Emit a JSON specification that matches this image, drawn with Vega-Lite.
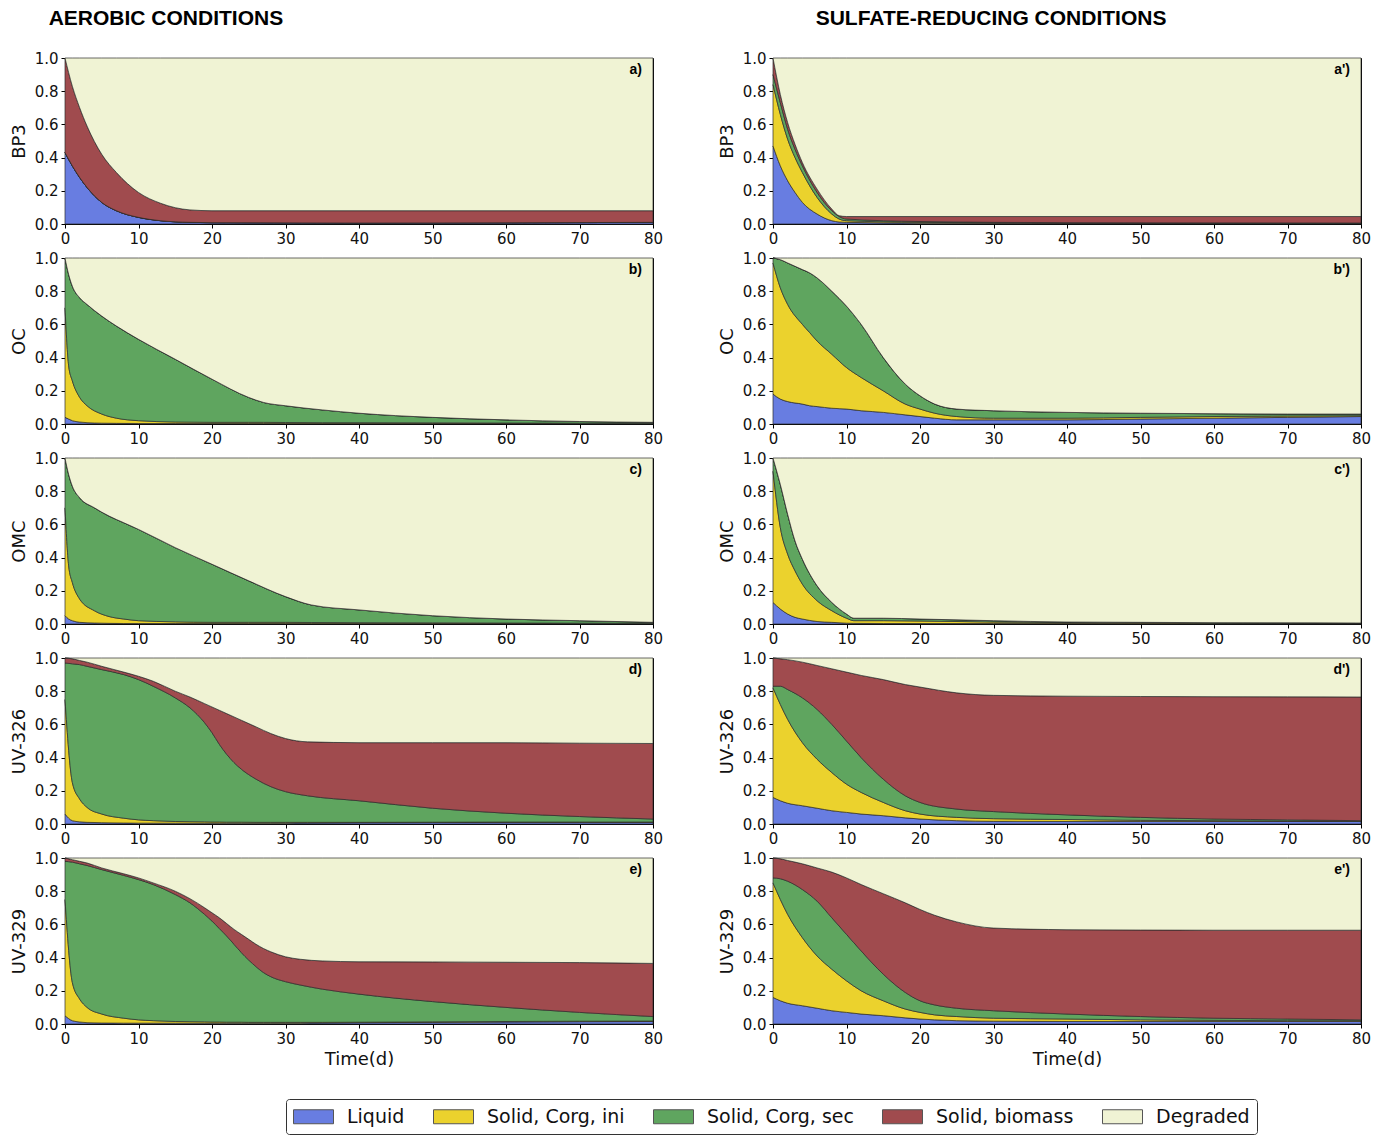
{
"$schema":"https://vega.github.io/schema/vega-lite/v6.json",
"padding":{"left":9,"top":7,"right":10,"bottom":0},
"background":"white",
"config":{
 "view":{"stroke":"#000","strokeWidth":1},
 "font":"DejaVu Sans",
 "axis":{"domainColor":"#000","tickColor":"#000","tickSize":4,"labelColor":"#111","labelFontSize":15,"labelFont":"DejaVu Sans","labelOverlap":false,"titleFont":"DejaVu Sans","titleFontSize":18,"titleFontWeight":"normal","titleColor":"#111","grid":false,"labelFlush":false,"labelPadding":3},
 "axisY":{"titlePadding":6},
 "axisX":{"titlePadding":4},
 "legend":{"orient":"none","legendX":221,"legendY":1041,"direction":"horizontal","columns":5,"symbolType":"M-1,-0.7H3V0.7H-1Z","symbolSize":400,"symbolStrokeColor":"#555","symbolStrokeWidth":1,"symbolOpacity":1,"labelFontSize":19,"labelFont":"DejaVu Sans","labelColor":"#111","columnPadding":26,"labelOffset":33,"strokeColor":"#333","padding":7,"cornerRadius":3,"fillColor":"#fff"},
 "title":{"font":"Liberation Sans","fontSize":21,"fontWeight":"bold","color":"#000","anchor":"start","offset":22}
},
"datasets":{"d":[
{"p":"a","t":0,"L":0.43,"I":0,"S":0,"B":0.57,"D":0},
{"p":"a","t":1,"L":0.35,"I":0,"S":0,"B":0.48,"D":0.17},
{"p":"a","t":2,"L":0.28,"I":0,"S":0,"B":0.42,"D":0.30},
{"p":"a","t":3,"L":0.22,"I":0,"S":0,"B":0.37,"D":0.41},
{"p":"a","t":5,"L":0.13,"I":0,"S":0,"B":0.29,"D":0.58},
{"p":"a","t":7,"L":0.08,"I":0,"S":0,"B":0.23,"D":0.69},
{"p":"a","t":10,"L":0.04,"I":0,"S":0,"B":0.15,"D":0.81},
{"p":"a","t":13,"L":0.02,"I":0,"S":0,"B":0.105,"D":0.875},
{"p":"a","t":17,"L":0.01,"I":0,"S":0,"B":0.075,"D":0.915},
{"p":"a","t":20,"L":0.008,"I":0,"S":0,"B":0.072,"D":0.92},
{"p":"a","t":40,"L":0.006,"I":0,"S":0,"B":0.074,"D":0.92},
{"p":"a","t":80,"L":0.01,"I":0,"S":0,"B":0.07,"D":0.92},

{"p":"b","t":0,"L":0.04,"I":0.66,"S":0.30,"B":0,"D":0},
{"p":"b","t":0.5,"L":0.03,"I":0.32,"S":0.55,"B":0,"D":0.10},
{"p":"b","t":1,"L":0.02,"I":0.24,"S":0.57,"B":0,"D":0.17},
{"p":"b","t":2,"L":0.012,"I":0.148,"S":0.60,"B":0,"D":0.24},
{"p":"b","t":3,"L":0.008,"I":0.102,"S":0.61,"B":0,"D":0.28},
{"p":"b","t":5,"L":0.005,"I":0.055,"S":0.59,"B":0,"D":0.35},
{"p":"b","t":7,"L":0.004,"I":0.031,"S":0.555,"B":0,"D":0.41},
{"p":"b","t":10,"L":0.003,"I":0.017,"S":0.49,"B":0,"D":0.49},
{"p":"b","t":15,"L":0.003,"I":0.009,"S":0.378,"B":0,"D":0.61},
{"p":"b","t":20,"L":0.003,"I":0.007,"S":0.26,"B":0,"D":0.73},
{"p":"b","t":25,"L":0.003,"I":0.007,"S":0.15,"B":0,"D":0.84},
{"p":"b","t":27,"L":0.003,"I":0.007,"S":0.12,"B":0,"D":0.87},
{"p":"b","t":30,"L":0.003,"I":0.006,"S":0.101,"B":0,"D":0.89},
{"p":"b","t":35,"L":0.003,"I":0.005,"S":0.077,"B":0,"D":0.915},
{"p":"b","t":40,"L":0.003,"I":0.005,"S":0.057,"B":0,"D":0.935},
{"p":"b","t":50,"L":0.003,"I":0.004,"S":0.033,"B":0,"D":0.96},
{"p":"b","t":60,"L":0.003,"I":0.003,"S":0.019,"B":0,"D":0.975},
{"p":"b","t":70,"L":0.003,"I":0.002,"S":0.01,"B":0,"D":0.985},
{"p":"b","t":80,"L":0.003,"I":0.002,"S":0.005,"B":0,"D":0.99},

{"p":"c","t":0,"L":0.05,"I":0.65,"S":0.30,"B":0,"D":0},
{"p":"c","t":0.5,"L":0.03,"I":0.32,"S":0.55,"B":0,"D":0.10},
{"p":"c","t":1,"L":0.02,"I":0.23,"S":0.58,"B":0,"D":0.17},
{"p":"c","t":2,"L":0.01,"I":0.14,"S":0.61,"B":0,"D":0.24},
{"p":"c","t":4,"L":0.006,"I":0.074,"S":0.62,"B":0,"D":0.30},
{"p":"c","t":6,"L":0.004,"I":0.041,"S":0.605,"B":0,"D":0.35},
{"p":"c","t":8,"L":0.003,"I":0.027,"S":0.58,"B":0,"D":0.39},
{"p":"c","t":10,"L":0.003,"I":0.017,"S":0.55,"B":0,"D":0.43},
{"p":"c","t":15,"L":0.003,"I":0.01,"S":0.447,"B":0,"D":0.54},
{"p":"c","t":20,"L":0.003,"I":0.007,"S":0.35,"B":0,"D":0.64},
{"p":"c","t":25,"L":0.003,"I":0.007,"S":0.25,"B":0,"D":0.74},
{"p":"c","t":30,"L":0.003,"I":0.007,"S":0.155,"B":0,"D":0.835},
{"p":"c","t":33.5,"L":0.003,"I":0.006,"S":0.106,"B":0,"D":0.885},
{"p":"c","t":40,"L":0.003,"I":0.005,"S":0.077,"B":0,"D":0.915},
{"p":"c","t":50,"L":0.003,"I":0.004,"S":0.043,"B":0,"D":0.95},
{"p":"c","t":60,"L":0.003,"I":0.003,"S":0.024,"B":0,"D":0.97},
{"p":"c","t":70,"L":0.003,"I":0.002,"S":0.015,"B":0,"D":0.98},
{"p":"c","t":80,"L":0.003,"I":0.002,"S":0.005,"B":0,"D":0.99},

{"p":"d","t":0,"L":0.06,"I":0.69,"S":0.22,"B":0.03,"D":0},
{"p":"d","t":1,"L":0.02,"I":0.23,"S":0.715,"B":0.03,"D":0.005},
{"p":"d","t":2,"L":0.013,"I":0.137,"S":0.81,"B":0.025,"D":0.015},
{"p":"d","t":3,"L":0.01,"I":0.09,"S":0.85,"B":0.025,"D":0.025},
{"p":"d","t":5,"L":0.008,"I":0.052,"S":0.87,"B":0.02,"D":0.05},
{"p":"d","t":8,"L":0.006,"I":0.029,"S":0.865,"B":0.015,"D":0.085},
{"p":"d","t":10,"L":0.005,"I":0.02,"S":0.845,"B":0.02,"D":0.11},
{"p":"d","t":12,"L":0.005,"I":0.015,"S":0.81,"B":0.03,"D":0.14},
{"p":"d","t":15,"L":0.005,"I":0.01,"S":0.745,"B":0.04,"D":0.20},
{"p":"d","t":17,"L":0.005,"I":0.009,"S":0.686,"B":0.065,"D":0.235},
{"p":"d","t":19,"L":0.005,"I":0.008,"S":0.597,"B":0.115,"D":0.275},
{"p":"d","t":20,"L":0.005,"I":0.007,"S":0.538,"B":0.155,"D":0.295},
{"p":"d","t":21,"L":0.005,"I":0.007,"S":0.468,"B":0.205,"D":0.315},
{"p":"d","t":22,"L":0.005,"I":0.006,"S":0.409,"B":0.245,"D":0.335},
{"p":"d","t":23,"L":0.005,"I":0.006,"S":0.359,"B":0.275,"D":0.355},
{"p":"d","t":24,"L":0.005,"I":0.006,"S":0.319,"B":0.295,"D":0.375},
{"p":"d","t":26,"L":0.005,"I":0.005,"S":0.26,"B":0.315,"D":0.415},
{"p":"d","t":28,"L":0.005,"I":0.005,"S":0.215,"B":0.32,"D":0.455},
{"p":"d","t":30,"L":0.005,"I":0.005,"S":0.185,"B":0.32,"D":0.485},
{"p":"d","t":33,"L":0.006,"I":0.004,"S":0.16,"B":0.325,"D":0.505},
{"p":"d","t":40,"L":0.008,"I":0.002,"S":0.13,"B":0.35,"D":0.51},
{"p":"d","t":50,"L":0.009,"I":0.002,"S":0.084,"B":0.395,"D":0.51},
{"p":"d","t":60,"L":0.01,"I":0.002,"S":0.053,"B":0.425,"D":0.51},
{"p":"d","t":70,"L":0.01,"I":0.002,"S":0.033,"B":0.442,"D":0.513},
{"p":"d","t":80,"L":0.01,"I":0.002,"S":0.018,"B":0.455,"D":0.515},

{"p":"e","t":0,"L":0.05,"I":0.70,"S":0.23,"B":0.02,"D":0},
{"p":"e","t":1,"L":0.02,"I":0.23,"S":0.725,"B":0.015,"D":0.01},
{"p":"e","t":2,"L":0.012,"I":0.138,"S":0.815,"B":0.015,"D":0.02},
{"p":"e","t":3,"L":0.008,"I":0.092,"S":0.855,"B":0.015,"D":0.03},
{"p":"e","t":5,"L":0.006,"I":0.054,"S":0.87,"B":0.01,"D":0.06},
{"p":"e","t":8,"L":0.005,"I":0.03,"S":0.86,"B":0.01,"D":0.095},
{"p":"e","t":10,"L":0.005,"I":0.02,"S":0.845,"B":0.01,"D":0.12},
{"p":"e","t":12,"L":0.005,"I":0.015,"S":0.82,"B":0.01,"D":0.15},
{"p":"e","t":15,"L":0.005,"I":0.01,"S":0.765,"B":0.02,"D":0.20},
{"p":"e","t":17,"L":0.005,"I":0.009,"S":0.716,"B":0.025,"D":0.245},
{"p":"e","t":19,"L":0.005,"I":0.008,"S":0.647,"B":0.04,"D":0.30},
{"p":"e","t":20,"L":0.005,"I":0.007,"S":0.608,"B":0.05,"D":0.33},
{"p":"e","t":21,"L":0.005,"I":0.007,"S":0.563,"B":0.065,"D":0.36},
{"p":"e","t":22,"L":0.005,"I":0.006,"S":0.519,"B":0.075,"D":0.395},
{"p":"e","t":23,"L":0.005,"I":0.006,"S":0.469,"B":0.09,"D":0.43},
{"p":"e","t":24,"L":0.005,"I":0.006,"S":0.419,"B":0.11,"D":0.46},
{"p":"e","t":25,"L":0.005,"I":0.005,"S":0.375,"B":0.125,"D":0.49},
{"p":"e","t":26,"L":0.005,"I":0.005,"S":0.335,"B":0.135,"D":0.52},
{"p":"e","t":27,"L":0.005,"I":0.005,"S":0.30,"B":0.145,"D":0.545},
{"p":"e","t":28,"L":0.005,"I":0.005,"S":0.275,"B":0.15,"D":0.565},
{"p":"e","t":30,"L":0.005,"I":0.005,"S":0.245,"B":0.15,"D":0.595},
{"p":"e","t":32,"L":0.005,"I":0.005,"S":0.225,"B":0.155,"D":0.61},
{"p":"e","t":35,"L":0.006,"I":0.004,"S":0.20,"B":0.17,"D":0.62},
{"p":"e","t":40,"L":0.008,"I":0.003,"S":0.169,"B":0.195,"D":0.625},
{"p":"e","t":50,"L":0.01,"I":0.003,"S":0.122,"B":0.239,"D":0.626},
{"p":"e","t":60,"L":0.012,"I":0.003,"S":0.085,"B":0.272,"D":0.628},
{"p":"e","t":70,"L":0.014,"I":0.003,"S":0.053,"B":0.30,"D":0.63},
{"p":"e","t":80,"L":0.015,"I":0.003,"S":0.027,"B":0.32,"D":0.635},

{"p":"a2","t":0,"L":0.47,"I":0.37,"S":0.06,"B":0.10,"D":0},
{"p":"a2","t":1,"L":0.35,"I":0.31,"S":0.07,"B":0.05,"D":0.22},
{"p":"a2","t":2,"L":0.26,"I":0.25,"S":0.06,"B":0.04,"D":0.39},
{"p":"a2","t":3,"L":0.19,"I":0.21,"S":0.05,"B":0.03,"D":0.52},
{"p":"a2","t":4,"L":0.13,"I":0.18,"S":0.04,"B":0.02,"D":0.63},
{"p":"a2","t":6,"L":0.06,"I":0.10,"S":0.03,"B":0.02,"D":0.79},
{"p":"a2","t":8,"L":0.02,"I":0.04,"S":0.02,"B":0.01,"D":0.91},
{"p":"a2","t":9,"L":0.012,"I":0.018,"S":0.015,"B":0.005,"D":0.95},
{"p":"a2","t":10,"L":0.01,"I":0.01,"S":0.01,"B":0.015,"D":0.955},
{"p":"a2","t":20,"L":0.005,"I":0.005,"S":0.005,"B":0.03,"D":0.955},
{"p":"a2","t":40,"L":0.004,"I":0.002,"S":0.002,"B":0.037,"D":0.955},
{"p":"a2","t":80,"L":0.004,"I":0.001,"S":0.001,"B":0.039,"D":0.955},

{"p":"b2","t":0,"L":0.18,"I":0.79,"S":0.03,"B":0,"D":0},
{"p":"b2","t":1,"L":0.15,"I":0.67,"S":0.17,"B":0,"D":0.01},
{"p":"b2","t":2,"L":0.135,"I":0.585,"S":0.25,"B":0,"D":0.03},
{"p":"b2","t":4,"L":0.12,"I":0.48,"S":0.33,"B":0,"D":0.07},
{"p":"b2","t":5,"L":0.11,"I":0.44,"S":0.36,"B":0,"D":0.09},
{"p":"b2","t":6,"L":0.105,"I":0.395,"S":0.38,"B":0,"D":0.12},
{"p":"b2","t":8,"L":0.095,"I":0.325,"S":0.38,"B":0,"D":0.20},
{"p":"b2","t":10,"L":0.09,"I":0.25,"S":0.37,"B":0,"D":0.29},
{"p":"b2","t":12,"L":0.08,"I":0.20,"S":0.32,"B":0,"D":0.40},
{"p":"b2","t":15,"L":0.07,"I":0.13,"S":0.20,"B":0,"D":0.60},
{"p":"b2","t":18,"L":0.055,"I":0.065,"S":0.12,"B":0,"D":0.76},
{"p":"b2","t":20,"L":0.045,"I":0.045,"S":0.08,"B":0,"D":0.83},
{"p":"b2","t":22,"L":0.035,"I":0.03,"S":0.055,"B":0,"D":0.88},
{"p":"b2","t":25,"L":0.025,"I":0.02,"S":0.045,"B":0,"D":0.91},
{"p":"b2","t":30,"L":0.025,"I":0.01,"S":0.045,"B":0,"D":0.92},
{"p":"b2","t":40,"L":0.025,"I":0.01,"S":0.035,"B":0,"D":0.93},
{"p":"b2","t":50,"L":0.03,"I":0.01,"S":0.025,"B":0,"D":0.935},
{"p":"b2","t":60,"L":0.035,"I":0.01,"S":0.017,"B":0,"D":0.938},
{"p":"b2","t":70,"L":0.04,"I":0.008,"S":0.012,"B":0,"D":0.94},
{"p":"b2","t":80,"L":0.045,"I":0.005,"S":0.01,"B":0,"D":0.94},

{"p":"c2","t":0,"L":0.13,"I":0.79,"S":0.08,"B":0,"D":0},
{"p":"c2","t":1,"L":0.09,"I":0.49,"S":0.26,"B":0,"D":0.16},
{"p":"c2","t":2,"L":0.06,"I":0.36,"S":0.24,"B":0,"D":0.34},
{"p":"c2","t":3,"L":0.04,"I":0.28,"S":0.18,"B":0,"D":0.50},
{"p":"c2","t":4,"L":0.03,"I":0.21,"S":0.15,"B":0,"D":0.61},
{"p":"c2","t":6,"L":0.015,"I":0.125,"S":0.09,"B":0,"D":0.77},
{"p":"c2","t":8,"L":0.01,"I":0.07,"S":0.05,"B":0,"D":0.87},
{"p":"c2","t":10,"L":0.005,"I":0.03,"S":0.025,"B":0,"D":0.94},
{"p":"c2","t":11,"L":0.004,"I":0.016,"S":0.015,"B":0,"D":0.965},
{"p":"c2","t":15,"L":0.003,"I":0.017,"S":0.015,"B":0,"D":0.965},
{"p":"c2","t":20,"L":0.003,"I":0.015,"S":0.012,"B":0,"D":0.97},
{"p":"c2","t":30,"L":0.003,"I":0.009,"S":0.008,"B":0,"D":0.98},
{"p":"c2","t":40,"L":0.003,"I":0.005,"S":0.004,"B":0,"D":0.988},
{"p":"c2","t":50,"L":0.002,"I":0.004,"S":0.004,"B":0,"D":0.99},
{"p":"c2","t":60,"L":0.002,"I":0.003,"S":0.003,"B":0,"D":0.992},
{"p":"c2","t":80,"L":0.002,"I":0.002,"S":0.002,"B":0,"D":0.994},

{"p":"d2","t":0,"L":0.16,"I":0.66,"S":0.01,"B":0.17,"D":0},
{"p":"d2","t":1,"L":0.14,"I":0.58,"S":0.11,"B":0.165,"D":0.005},
{"p":"d2","t":2,"L":0.125,"I":0.505,"S":0.18,"B":0.18,"D":0.01},
{"p":"d2","t":4,"L":0.11,"I":0.38,"S":0.27,"B":0.215,"D":0.025},
{"p":"d2","t":6,"L":0.095,"I":0.295,"S":0.30,"B":0.265,"D":0.045},
{"p":"d2","t":8,"L":0.08,"I":0.23,"S":0.29,"B":0.335,"D":0.065},
{"p":"d2","t":10,"L":0.07,"I":0.17,"S":0.26,"B":0.415,"D":0.085},
{"p":"d2","t":12,"L":0.06,"I":0.13,"S":0.21,"B":0.495,"D":0.105},
{"p":"d2","t":15,"L":0.05,"I":0.08,"S":0.14,"B":0.60,"D":0.13},
{"p":"d2","t":18,"L":0.037,"I":0.043,"S":0.09,"B":0.67,"D":0.16},
{"p":"d2","t":20,"L":0.03,"I":0.03,"S":0.07,"B":0.695,"D":0.175},
{"p":"d2","t":25,"L":0.02,"I":0.02,"S":0.05,"B":0.70,"D":0.21},
{"p":"d2","t":30,"L":0.016,"I":0.016,"S":0.043,"B":0.70,"D":0.225},
{"p":"d2","t":40,"L":0.015,"I":0.012,"S":0.028,"B":0.715,"D":0.23},
{"p":"d2","t":50,"L":0.015,"I":0.007,"S":0.018,"B":0.728,"D":0.232},
{"p":"d2","t":60,"L":0.015,"I":0.005,"S":0.01,"B":0.737,"D":0.233},
{"p":"d2","t":70,"L":0.015,"I":0.003,"S":0.007,"B":0.741,"D":0.234},
{"p":"d2","t":80,"L":0.015,"I":0.002,"S":0.003,"B":0.745,"D":0.235},

{"p":"e2","t":0,"L":0.16,"I":0.69,"S":0.03,"B":0.12,"D":0},
{"p":"e2","t":1,"L":0.14,"I":0.61,"S":0.125,"B":0.12,"D":0.005},
{"p":"e2","t":2,"L":0.125,"I":0.535,"S":0.20,"B":0.125,"D":0.015},
{"p":"e2","t":4,"L":0.11,"I":0.41,"S":0.29,"B":0.155,"D":0.035},
{"p":"e2","t":6,"L":0.095,"I":0.315,"S":0.33,"B":0.20,"D":0.06},
{"p":"e2","t":8,"L":0.08,"I":0.25,"S":0.31,"B":0.275,"D":0.085},
{"p":"e2","t":10,"L":0.07,"I":0.19,"S":0.28,"B":0.34,"D":0.12},
{"p":"e2","t":12,"L":0.06,"I":0.14,"S":0.24,"B":0.40,"D":0.16},
{"p":"e2","t":15,"L":0.05,"I":0.09,"S":0.16,"B":0.485,"D":0.215},
{"p":"e2","t":18,"L":0.037,"I":0.053,"S":0.10,"B":0.54,"D":0.27},
{"p":"e2","t":20,"L":0.03,"I":0.04,"S":0.07,"B":0.55,"D":0.31},
{"p":"e2","t":22,"L":0.025,"I":0.03,"S":0.06,"B":0.54,"D":0.345},
{"p":"e2","t":25,"L":0.02,"I":0.025,"S":0.05,"B":0.52,"D":0.385},
{"p":"e2","t":30,"L":0.017,"I":0.018,"S":0.045,"B":0.498,"D":0.422},
{"p":"e2","t":40,"L":0.015,"I":0.015,"S":0.03,"B":0.508,"D":0.432},
{"p":"e2","t":50,"L":0.015,"I":0.01,"S":0.02,"B":0.521,"D":0.434},
{"p":"e2","t":60,"L":0.015,"I":0.007,"S":0.013,"B":0.53,"D":0.435},
{"p":"e2","t":70,"L":0.015,"I":0.005,"S":0.01,"B":0.535,"D":0.435},
{"p":"e2","t":80,"L":0.015,"I":0.005,"S":0.005,"B":0.54,"D":0.435}
]},
"data":{"name":"d"},
"transform":[
 {"fold":["L","I","S","B","D"],"as":["k","v"]},
 {"lookup":"k","from":{"data":{"values":[{"k":"L","n":"Liquid","o":1},{"k":"I","n":"Solid, Corg, ini","o":2},{"k":"S","n":"Solid, Corg, sec","o":3},{"k":"B","n":"Solid, biomass","o":4},{"k":"D","n":"Degraded","o":5}]},"key":"k","fields":["n","o"]}}
],
"spacing":53,
"hconcat":[
{"title":{"text":"AEROBIC CONDITIONS","dx":39},"bounds":"flush","spacing":34,"vconcat":[
 {"width":588,"height":166,"transform":[{"filter":"datum.p=='a'"}],"layer":[
  {"mark":{"type":"area","interpolate":"monotone","stroke":"#2b2b2b","strokeWidth":0.7},"encoding":{
   "x":{"field":"t","type":"quantitative","scale":{"domain":[0,80],"nice":false},"axis":{"values":[0,10,20,30,40,50,60,70,80],"tickCount":9,"labelOverlap":false,"title":null}},
   "y":{"field":"v","type":"quantitative","stack":"zero","scale":{"domain":[0,1],"nice":false},"axis":{"values":[0,0.2,0.4,0.6,0.8,1],"tickCount":6,"labelOverlap":false,"format":".1f","title":"BP3"}},
   "color":{"field":"n","type":"nominal","scale":{"domain":["Liquid","Solid, Corg, ini","Solid, Corg, sec","Solid, biomass","Degraded"],"range":["#687DE1","#EBD22D","#5FA55F","#A04B4E","#F0F3D4"]},"legend":{"title":null}},
   "order":{"field":"o","type":"quantitative"}}},
  {"data":{"values":[{}]},"mark":{"type":"text","text":"a)","align":"right","baseline":"middle","fontWeight":"bold","fontSize":14,"font":"Liberation Sans","color":"#000"},"encoding":{"x":{"datum":78.5,"type":"quantitative"},"y":{"datum":0.928,"type":"quantitative"}}}]},
 {"width":588,"height":166,"transform":[{"filter":"datum.p=='b'"}],"layer":[
  {"mark":{"type":"area","interpolate":"monotone","stroke":"#2b2b2b","strokeWidth":0.7},"encoding":{
   "x":{"field":"t","type":"quantitative","scale":{"domain":[0,80],"nice":false},"axis":{"values":[0,10,20,30,40,50,60,70,80],"tickCount":9,"labelOverlap":false,"title":null}},
   "y":{"field":"v","type":"quantitative","stack":"zero","scale":{"domain":[0,1],"nice":false},"axis":{"values":[0,0.2,0.4,0.6,0.8,1],"tickCount":6,"labelOverlap":false,"format":".1f","title":"OC"}},
   "color":{"field":"n","type":"nominal","scale":{"domain":["Liquid","Solid, Corg, ini","Solid, Corg, sec","Solid, biomass","Degraded"],"range":["#687DE1","#EBD22D","#5FA55F","#A04B4E","#F0F3D4"]},"legend":{"title":null}},
   "order":{"field":"o","type":"quantitative"}}},
  {"data":{"values":[{}]},"mark":{"type":"text","text":"b)","align":"right","baseline":"middle","fontWeight":"bold","fontSize":14,"font":"Liberation Sans","color":"#000"},"encoding":{"x":{"datum":78.5,"type":"quantitative"},"y":{"datum":0.928,"type":"quantitative"}}}]},
 {"width":588,"height":166,"transform":[{"filter":"datum.p=='c'"}],"layer":[
  {"mark":{"type":"area","interpolate":"monotone","stroke":"#2b2b2b","strokeWidth":0.7},"encoding":{
   "x":{"field":"t","type":"quantitative","scale":{"domain":[0,80],"nice":false},"axis":{"values":[0,10,20,30,40,50,60,70,80],"tickCount":9,"labelOverlap":false,"title":null}},
   "y":{"field":"v","type":"quantitative","stack":"zero","scale":{"domain":[0,1],"nice":false},"axis":{"values":[0,0.2,0.4,0.6,0.8,1],"tickCount":6,"labelOverlap":false,"format":".1f","title":"OMC"}},
   "color":{"field":"n","type":"nominal","scale":{"domain":["Liquid","Solid, Corg, ini","Solid, Corg, sec","Solid, biomass","Degraded"],"range":["#687DE1","#EBD22D","#5FA55F","#A04B4E","#F0F3D4"]},"legend":{"title":null}},
   "order":{"field":"o","type":"quantitative"}}},
  {"data":{"values":[{}]},"mark":{"type":"text","text":"c)","align":"right","baseline":"middle","fontWeight":"bold","fontSize":14,"font":"Liberation Sans","color":"#000"},"encoding":{"x":{"datum":78.5,"type":"quantitative"},"y":{"datum":0.928,"type":"quantitative"}}}]},
 {"width":588,"height":166,"transform":[{"filter":"datum.p=='d'"}],"layer":[
  {"mark":{"type":"area","interpolate":"monotone","stroke":"#2b2b2b","strokeWidth":0.7},"encoding":{
   "x":{"field":"t","type":"quantitative","scale":{"domain":[0,80],"nice":false},"axis":{"values":[0,10,20,30,40,50,60,70,80],"tickCount":9,"labelOverlap":false,"title":null}},
   "y":{"field":"v","type":"quantitative","stack":"zero","scale":{"domain":[0,1],"nice":false},"axis":{"values":[0,0.2,0.4,0.6,0.8,1],"tickCount":6,"labelOverlap":false,"format":".1f","title":"UV-326"}},
   "color":{"field":"n","type":"nominal","scale":{"domain":["Liquid","Solid, Corg, ini","Solid, Corg, sec","Solid, biomass","Degraded"],"range":["#687DE1","#EBD22D","#5FA55F","#A04B4E","#F0F3D4"]},"legend":{"title":null}},
   "order":{"field":"o","type":"quantitative"}}},
  {"data":{"values":[{}]},"mark":{"type":"text","text":"d)","align":"right","baseline":"middle","fontWeight":"bold","fontSize":14,"font":"Liberation Sans","color":"#000"},"encoding":{"x":{"datum":78.5,"type":"quantitative"},"y":{"datum":0.928,"type":"quantitative"}}}]},
 {"width":588,"height":166,"transform":[{"filter":"datum.p=='e'"}],"layer":[
  {"mark":{"type":"area","interpolate":"monotone","stroke":"#2b2b2b","strokeWidth":0.7},"encoding":{
   "x":{"field":"t","type":"quantitative","scale":{"domain":[0,80],"nice":false},"axis":{"values":[0,10,20,30,40,50,60,70,80],"tickCount":9,"labelOverlap":false,"title":"Time(d)"}},
   "y":{"field":"v","type":"quantitative","stack":"zero","scale":{"domain":[0,1],"nice":false},"axis":{"values":[0,0.2,0.4,0.6,0.8,1],"tickCount":6,"labelOverlap":false,"format":".1f","title":"UV-329"}},
   "color":{"field":"n","type":"nominal","scale":{"domain":["Liquid","Solid, Corg, ini","Solid, Corg, sec","Solid, biomass","Degraded"],"range":["#687DE1","#EBD22D","#5FA55F","#A04B4E","#F0F3D4"]},"legend":{"title":null}},
   "order":{"field":"o","type":"quantitative"}}},
  {"data":{"values":[{}]},"mark":{"type":"text","text":"e)","align":"right","baseline":"middle","fontWeight":"bold","fontSize":14,"font":"Liberation Sans","color":"#000"},"encoding":{"x":{"datum":78.5,"type":"quantitative"},"y":{"datum":0.928,"type":"quantitative"}}}]}
]},
{"title":{"text":"SULFATE-REDUCING CONDITIONS","dx":98},"bounds":"flush","spacing":34,"vconcat":[
 {"width":588,"height":166,"transform":[{"filter":"datum.p=='a2'"}],"layer":[
  {"mark":{"type":"area","interpolate":"monotone","stroke":"#2b2b2b","strokeWidth":0.7},"encoding":{
   "x":{"field":"t","type":"quantitative","scale":{"domain":[0,80],"nice":false},"axis":{"values":[0,10,20,30,40,50,60,70,80],"tickCount":9,"labelOverlap":false,"title":null}},
   "y":{"field":"v","type":"quantitative","stack":"zero","scale":{"domain":[0,1],"nice":false},"axis":{"values":[0,0.2,0.4,0.6,0.8,1],"tickCount":6,"labelOverlap":false,"format":".1f","title":"BP3"}},
   "color":{"field":"n","type":"nominal","scale":{"domain":["Liquid","Solid, Corg, ini","Solid, Corg, sec","Solid, biomass","Degraded"],"range":["#687DE1","#EBD22D","#5FA55F","#A04B4E","#F0F3D4"]},"legend":{"title":null}},
   "order":{"field":"o","type":"quantitative"}}},
  {"data":{"values":[{}]},"mark":{"type":"text","text":"a')","align":"right","baseline":"middle","fontWeight":"bold","fontSize":14,"font":"Liberation Sans","color":"#000"},"encoding":{"x":{"datum":78.5,"type":"quantitative"},"y":{"datum":0.928,"type":"quantitative"}}}]},
 {"width":588,"height":166,"transform":[{"filter":"datum.p=='b2'"}],"layer":[
  {"mark":{"type":"area","interpolate":"monotone","stroke":"#2b2b2b","strokeWidth":0.7},"encoding":{
   "x":{"field":"t","type":"quantitative","scale":{"domain":[0,80],"nice":false},"axis":{"values":[0,10,20,30,40,50,60,70,80],"tickCount":9,"labelOverlap":false,"title":null}},
   "y":{"field":"v","type":"quantitative","stack":"zero","scale":{"domain":[0,1],"nice":false},"axis":{"values":[0,0.2,0.4,0.6,0.8,1],"tickCount":6,"labelOverlap":false,"format":".1f","title":"OC"}},
   "color":{"field":"n","type":"nominal","scale":{"domain":["Liquid","Solid, Corg, ini","Solid, Corg, sec","Solid, biomass","Degraded"],"range":["#687DE1","#EBD22D","#5FA55F","#A04B4E","#F0F3D4"]},"legend":{"title":null}},
   "order":{"field":"o","type":"quantitative"}}},
  {"data":{"values":[{}]},"mark":{"type":"text","text":"b')","align":"right","baseline":"middle","fontWeight":"bold","fontSize":14,"font":"Liberation Sans","color":"#000"},"encoding":{"x":{"datum":78.5,"type":"quantitative"},"y":{"datum":0.928,"type":"quantitative"}}}]},
 {"width":588,"height":166,"transform":[{"filter":"datum.p=='c2'"}],"layer":[
  {"mark":{"type":"area","interpolate":"monotone","stroke":"#2b2b2b","strokeWidth":0.7},"encoding":{
   "x":{"field":"t","type":"quantitative","scale":{"domain":[0,80],"nice":false},"axis":{"values":[0,10,20,30,40,50,60,70,80],"tickCount":9,"labelOverlap":false,"title":null}},
   "y":{"field":"v","type":"quantitative","stack":"zero","scale":{"domain":[0,1],"nice":false},"axis":{"values":[0,0.2,0.4,0.6,0.8,1],"tickCount":6,"labelOverlap":false,"format":".1f","title":"OMC"}},
   "color":{"field":"n","type":"nominal","scale":{"domain":["Liquid","Solid, Corg, ini","Solid, Corg, sec","Solid, biomass","Degraded"],"range":["#687DE1","#EBD22D","#5FA55F","#A04B4E","#F0F3D4"]},"legend":{"title":null}},
   "order":{"field":"o","type":"quantitative"}}},
  {"data":{"values":[{}]},"mark":{"type":"text","text":"c')","align":"right","baseline":"middle","fontWeight":"bold","fontSize":14,"font":"Liberation Sans","color":"#000"},"encoding":{"x":{"datum":78.5,"type":"quantitative"},"y":{"datum":0.928,"type":"quantitative"}}}]},
 {"width":588,"height":166,"transform":[{"filter":"datum.p=='d2'"}],"layer":[
  {"mark":{"type":"area","interpolate":"monotone","stroke":"#2b2b2b","strokeWidth":0.7},"encoding":{
   "x":{"field":"t","type":"quantitative","scale":{"domain":[0,80],"nice":false},"axis":{"values":[0,10,20,30,40,50,60,70,80],"tickCount":9,"labelOverlap":false,"title":null}},
   "y":{"field":"v","type":"quantitative","stack":"zero","scale":{"domain":[0,1],"nice":false},"axis":{"values":[0,0.2,0.4,0.6,0.8,1],"tickCount":6,"labelOverlap":false,"format":".1f","title":"UV-326"}},
   "color":{"field":"n","type":"nominal","scale":{"domain":["Liquid","Solid, Corg, ini","Solid, Corg, sec","Solid, biomass","Degraded"],"range":["#687DE1","#EBD22D","#5FA55F","#A04B4E","#F0F3D4"]},"legend":{"title":null}},
   "order":{"field":"o","type":"quantitative"}}},
  {"data":{"values":[{}]},"mark":{"type":"text","text":"d')","align":"right","baseline":"middle","fontWeight":"bold","fontSize":14,"font":"Liberation Sans","color":"#000"},"encoding":{"x":{"datum":78.5,"type":"quantitative"},"y":{"datum":0.928,"type":"quantitative"}}}]},
 {"width":588,"height":166,"transform":[{"filter":"datum.p=='e2'"}],"layer":[
  {"mark":{"type":"area","interpolate":"monotone","stroke":"#2b2b2b","strokeWidth":0.7},"encoding":{
   "x":{"field":"t","type":"quantitative","scale":{"domain":[0,80],"nice":false},"axis":{"values":[0,10,20,30,40,50,60,70,80],"tickCount":9,"labelOverlap":false,"title":"Time(d)"}},
   "y":{"field":"v","type":"quantitative","stack":"zero","scale":{"domain":[0,1],"nice":false},"axis":{"values":[0,0.2,0.4,0.6,0.8,1],"tickCount":6,"labelOverlap":false,"format":".1f","title":"UV-329"}},
   "color":{"field":"n","type":"nominal","scale":{"domain":["Liquid","Solid, Corg, ini","Solid, Corg, sec","Solid, biomass","Degraded"],"range":["#687DE1","#EBD22D","#5FA55F","#A04B4E","#F0F3D4"]},"legend":{"title":null}},
   "order":{"field":"o","type":"quantitative"}}},
  {"data":{"values":[{}]},"mark":{"type":"text","text":"e')","align":"right","baseline":"middle","fontWeight":"bold","fontSize":14,"font":"Liberation Sans","color":"#000"},"encoding":{"x":{"datum":78.5,"type":"quantitative"},"y":{"datum":0.928,"type":"quantitative"}}}]}
]}
]
}
